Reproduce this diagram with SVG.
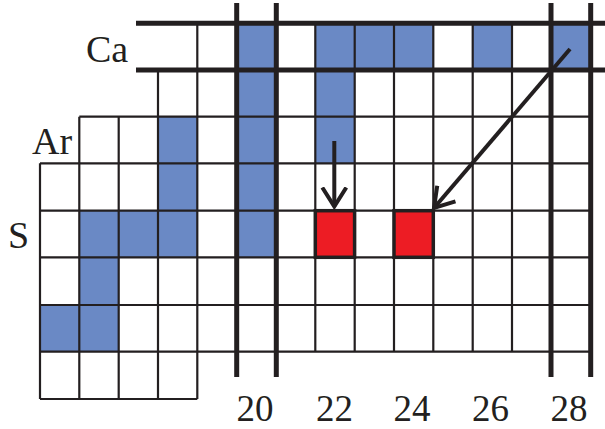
<svg xmlns="http://www.w3.org/2000/svg" width="605" height="429" viewBox="0 0 605 429">
<defs>
<style>
.blue{fill:#6a89c5}
.red{fill:#ed1c24;stroke:#231f20;stroke-width:3.5}
.thin{stroke:#231f20;stroke-width:2.2;fill:none}
.thick{stroke:#231f20;stroke-width:5;fill:none}
.arr{stroke:#231f20;stroke-width:4;fill:none}
.lbl{font-family:"Liberation Serif","Times New Roman",serif;font-size:38px;fill:#231f20}
.num{font-family:"Liberation Serif","Times New Roman",serif;font-size:37px;fill:#231f20;text-anchor:middle}
</style>
<marker id="vh" markerUnits="userSpaceOnUse" markerWidth="40" markerHeight="40" refX="20" refY="20" orient="auto" viewBox="0 0 40 40">
<polyline points="1,8 20,20 1,32" fill="none" stroke="#231f20" stroke-width="4"/>
</marker>
</defs>
<rect width="605" height="429" fill="#fff"/>
<g id="cells">
<rect class="blue" x="236.7" y="23.3" width="39.3" height="46.7"/>
<rect class="blue" x="315.3" y="23.3" width="39.3" height="46.7"/>
<rect class="blue" x="354.7" y="23.3" width="39.3" height="46.7"/>
<rect class="blue" x="394" y="23.3" width="39.3" height="46.7"/>
<rect class="blue" x="472.7" y="23.3" width="39.3" height="46.7"/>
<rect class="blue" x="551.3" y="23.3" width="39.3" height="46.7"/>
<rect class="blue" x="236.7" y="70" width="39.3" height="46.7"/>
<rect class="blue" x="315.3" y="70" width="39.3" height="46.7"/>
<rect class="blue" x="158" y="116.7" width="39.3" height="46.6"/>
<rect class="blue" x="236.7" y="116.7" width="39.3" height="46.6"/>
<rect class="blue" x="315.3" y="116.7" width="39.3" height="46.6"/>
<rect class="blue" x="158" y="163.3" width="39.3" height="47.4"/>
<rect class="blue" x="236.7" y="163.3" width="39.3" height="47.4"/>
<rect class="blue" x="79.3" y="210.7" width="39.4" height="46.6"/>
<rect class="blue" x="118.7" y="210.7" width="39.3" height="46.6"/>
<rect class="blue" x="158" y="210.7" width="39.3" height="46.6"/>
<rect class="blue" x="236.7" y="210.7" width="39.3" height="46.6"/>
<rect class="blue" x="79.3" y="257.3" width="39.4" height="47.7"/>
<rect class="blue" x="40" y="305" width="39.3" height="46.7"/>
<rect class="blue" x="79.3" y="305" width="39.4" height="46.7"/>
</g>
<g id="grid">
<path class="thin" d="M79.3 116.7H590.7M40 163.3H590.7M40 210.7H590.7M40 257.3H590.7M40 305H590.7M40 351.7H590.7M40 399H197.3"/>
<path class="thin" d="M40 163.3V399M79.3 116.7V399M118.7 116.7V399M158 70V399M197.3 23.3V399M315.3 23.3V351.7M354.7 23.3V351.7M394 23.3V351.7M433.3 23.3V351.7M472.7 23.3V351.7M512 23.3V351.7"/>
<path class="thick" d="M136 23.3H605M136 70H605"/>
<path class="thick" d="M236.7 3V377M276.3 3V377M551 3V377M590.7 3V377"/>
</g>
<g id="red22"><rect class="red" x="315.3" y="210.7" width="39.3" height="46.6"/></g>
<g id="red24"><rect class="red" x="394" y="210.7" width="39.3" height="46.6"/></g>
<g id="connectors">
<line class="arr" x1="334.3" y1="141" x2="334.3" y2="206.5" marker-end="url(#vh)"/>
<line class="arr" x1="570" y1="49" x2="434" y2="208" marker-end="url(#vh)"/>
</g>
<g id="labels">
<text class="lbl" x="86" y="62">Ca</text>
<text class="lbl" x="32" y="154">Ar</text>
<text class="lbl" x="8" y="248">S</text>
<text class="num" x="255" y="421">20</text>
<text class="num" x="334.5" y="421">22</text>
<text class="num" x="412" y="421">24</text>
<text class="num" x="490.5" y="421">26</text>
<text class="num" x="569" y="421">28</text>
</g>
</svg>
